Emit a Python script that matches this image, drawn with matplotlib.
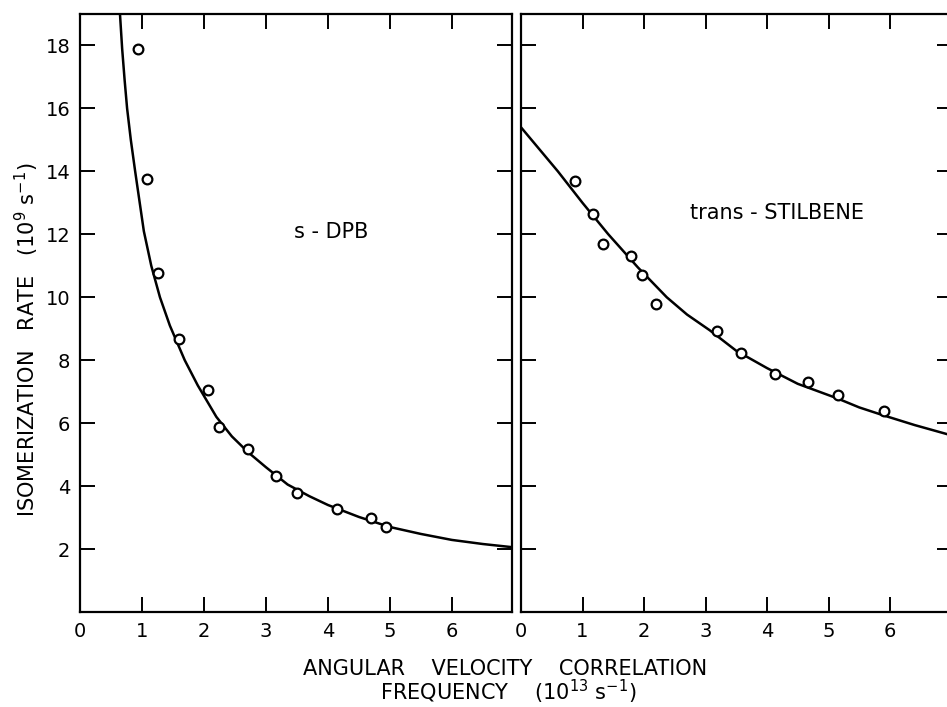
import matplotlib
matplotlib.use("Agg")
import matplotlib.pyplot as plt

# s-DPB: measured points and fitted curve
dpb_x = [0.94, 1.08, 1.26, 1.60, 2.07, 2.24, 2.71, 3.16, 3.50, 4.15, 4.69, 4.94]
dpb_y = [17.9, 13.75, 10.76, 8.67, 7.05, 5.87, 5.17, 4.32, 3.78, 3.27, 2.98, 2.70]
dpb_fit_x = [0.645, 0.68, 0.72, 0.76, 0.82, 0.89, 0.96, 1.03, 1.15, 1.29, 1.45, 1.69,
             1.90, 2.20, 2.45, 2.71, 3.00, 3.35, 3.70, 4.00, 4.50, 5.00, 5.50, 6.00,
             6.50, 6.97]
dpb_fit_y = [19.0, 17.9, 16.9, 16.0, 15.0, 14.0, 13.05, 12.1, 11.0, 10.0, 9.1, 8.0,
             7.2, 6.2, 5.58, 5.08, 4.6, 4.05, 3.68, 3.40, 3.02, 2.70, 2.48, 2.29,
             2.16, 2.06]

# trans-stilbene
stil_x = [0.88, 1.17, 1.34, 1.79, 1.97, 2.19, 3.19, 3.58, 4.13, 4.67, 5.15, 5.90]
stil_y = [13.7, 12.65, 11.7, 11.3, 10.7, 9.78, 8.92, 8.22, 7.55, 7.30, 6.89, 6.38]
stil_fit_x = [0.0, 0.3, 0.6, 1.0, 1.42, 1.9, 2.37, 2.7, 3.07, 3.5, 4.0, 4.5,
              5.14, 5.5, 5.89, 6.4, 6.93]
stil_fit_y = [15.4, 14.7, 14.0, 13.0, 12.0, 10.95, 10.0, 9.45, 8.95, 8.3, 7.75, 7.25,
              6.79, 6.50, 6.25, 5.94, 5.65]

xticks = [0, 1, 2, 3, 4, 5, 6]
yticks = [2, 4, 6, 8, 10, 12, 14, 16, 18]

plt.rcParams['font.family'] = ['DejaVu Sans']

fig = plt.figure(figsize=(9.47, 7.07), dpi=100)
ax1 = fig.add_axes([80 / 947, 1 - 612 / 707, 432 / 947, 598 / 707])
ax2 = fig.add_axes([521 / 947, 1 - 612 / 707, 430.5 / 947, 598 / 707])

for ax in (ax1, ax2):
    ax.set_ylim(0, 19)
    ax.set_xticks(xticks)
    ax.set_yticks(yticks)
    ax.tick_params(direction='in', length=11, width=1.4, top=True, right=True,
                   labelsize=14, pad=7)
    for s in ax.spines.values():
        s.set_linewidth(1.6)

ax1.set_xlim(0, 6.97)
ax2.set_xlim(0, 7)
ax2.tick_params(labelleft=False)

ax1.plot(dpb_fit_x, dpb_fit_y, color='black', lw=1.8)
ax1.plot(dpb_x, dpb_y, 'o', mfc='white', mec='black', ms=7, mew=1.6)
ax1.text(4.06, 12.07, 's - DPB', fontsize=15, ha='center', va='center')

ax2.plot(stil_fit_x, stil_fit_y, color='black', lw=1.8)
ax2.plot(stil_x, stil_y, 'o', mfc='white', mec='black', ms=7, mew=1.6)
ax2.text(4.16, 12.68, 'trans - STILBENE', fontsize=15, ha='center', va='center')

fig.text(27 / 947, 1 - 340 / 707, 'ISOMERIZATION   RATE   (10$^9$ s$^{-1}$)',
         rotation=90, ha='center', va='center', fontsize=15)
fig.text(505 / 947, 1 - 669 / 707, 'ANGULAR    VELOCITY    CORRELATION',
         ha='center', va='center', fontsize=15)
fig.text(508 / 947, 1 - 692 / 707, 'FREQUENCY    (10$^{13}$ s$^{-1}$)',
         ha='center', va='center', fontsize=15)

fig.savefig('out.png', dpi=100)
